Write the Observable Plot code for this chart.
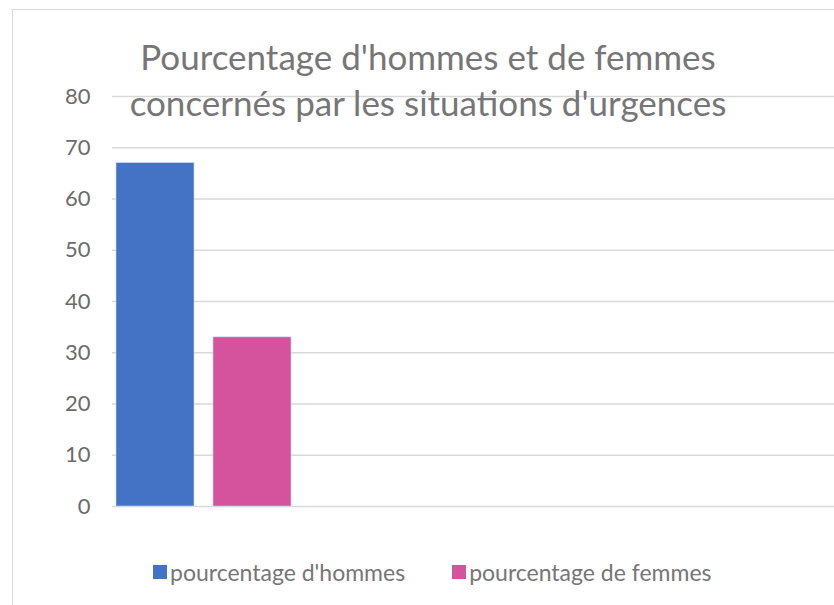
<!DOCTYPE html>
<html>
<head>
<meta charset="utf-8">
<script src="https://cdn.jsdelivr.net/npm/d3@7"></script>
<script src="https://cdn.jsdelivr.net/npm/@observablehq/plot@0.6"></script>
<style>
  html, body { margin: 0; padding: 0; background: #fff; }
  #wrap { position: relative; width: 834px; height: 605px; overflow: hidden; font-family: Lato, "Open Sans", sans-serif; }
  #frame { position: absolute; left: 12px; top: 9px; width: 900px; height: 700px; border: 1px solid #d9d9d9; box-sizing: border-box; }
  #chart { position: absolute; left: 0; top: 0; }
  #title { position: absolute; left: 0; width: 856px; top: 33px; text-align: center; font-size: 35px; line-height: 46px; color: #767676; pointer-events: none; }
  #legend { position: absolute; top: 558px; left: 153px; display: flex; gap: 47px; font-size: 23px; color: #767676; }
  .item { display: flex; align-items: center; }
  .sw { width: 14px; height: 14px; margin-right: 3px; }
</style>
</head>
<body>
<div id="wrap">
  <div id="frame"></div>
  <div id="chart"></div>
  <div id="title">Pourcentage d'hommes et de femmes<br>concernés par les situations d'urgences</div>
  <div id="legend"></div>
</div>
<script>
const series = ["pourcentage d'hommes", "pourcentage de femmes"];
const values = [67, 33];
const colors = ["#4472C4", "#D5529D"];
const yTicks = [0, 10, 20, 30, 40, 50, 60, 70, 80];

const data = series.map((s, i) => ({series: s, value: values[i]}));

const plot = Plot.plot({
  width: 834,
  height: 605,
  marginTop: 96,
  marginBottom: 99,
  marginLeft: 112,
  marginRight: 0,
  style: {fontFamily: "Lato, sans-serif", fontSize: "22px", color: "#6b6b6b", background: "transparent"},
  x: {domain: series, range: [112, 295], paddingInner: 0.194, paddingOuter: 0.031, axis: null},
  y: {domain: [0, 80], ticks: yTicks, label: null},
  color: {domain: series, range: colors},
  marks: [
    Plot.gridY(yTicks, {stroke: "#d9d9d9", strokeOpacity: 1, strokeWidth: 1.5}),
    Plot.barY(data, {x: "series", y: "value", fill: "series", stroke: "#c9d6ee", strokeWidth: 0.6}),
    Plot.axisY(yTicks, {tickSize: 0, tickPadding: 22, fill: "#6b6b6b", fontSize: 22, label: null})
  ]
});
document.getElementById("chart").appendChild(plot);

const legend = document.getElementById("legend");
series.forEach((s, i) => {
  const it = document.createElement("div");
  it.className = "item";
  const sw = document.createElement("span");
  sw.className = "sw";
  sw.style.background = colors[i];
  const t = document.createElement("span");
  t.textContent = s;
  it.appendChild(sw); it.appendChild(t);
  legend.appendChild(it);
});
</script>
</body>
</html>
